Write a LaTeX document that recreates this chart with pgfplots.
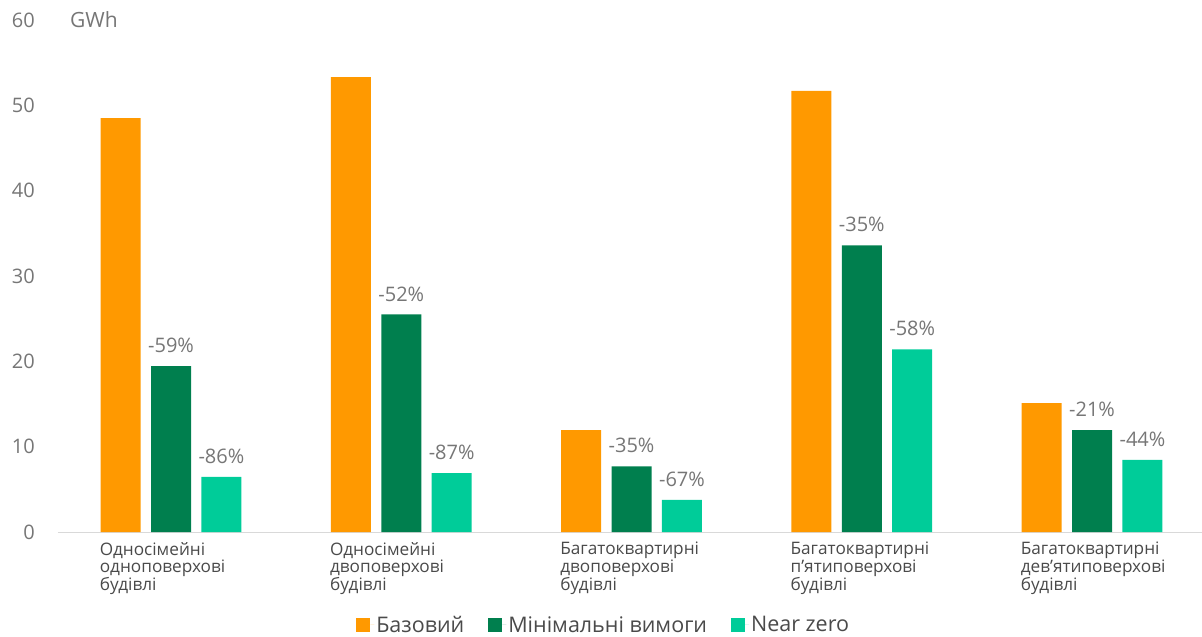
\documentclass[border=0pt]{standalone}
\usepackage{pgfplots}
\pgfplotsset{compat=1.18}
\usepackage{fontspec}
\setmainfont{Open Sans}
\definecolor{cOr}{HTML}{FF9900}
\definecolor{cDg}{HTML}{007F4E}
\definecolor{cTl}{HTML}{00CC99}
\definecolor{tGray}{HTML}{767676}
\definecolor{tDark}{HTML}{4A4A4A}
\definecolor{lGray}{HTML}{D9D9D9}
\begin{document}
\begin{tikzpicture}
\path[use as bounding box] (0,0) rectangle (1202pt,637pt);
\begin{axis}[
  at={(58pt,105pt)}, anchor=south west,
  scale only axis, width=1144pt, height=512pt,
  xmin=-0.4908, xmax=4.4777, ymin=0, ymax=60,
  axis x line*=bottom, axis y line=none,
  x axis line style={draw=lGray, line width=1pt, -},
  ytick={0,10,...,60},
  major tick length=0pt,
  xtick={-0.310,0.690,1.690,2.690,3.690},
  xticklabels={{Односімейні\\одноповерхові\\будівлі},{Односімейні\\двоповерхові\\будівлі},{Багатоквартирні\\двоповерхові\\будівлі},{Багатоквартирні\\п’ятиповерхові\\будівлі},{Багатоквартирні\\дев’ятиповерхові\\будівлі}},
  xticklabel style={anchor=north west, align=left, inner sep=0pt, yshift=-10pt, text=tDark, font={\fontsize{17.2pt}{14.8pt}\selectfont}},
  /pgf/number format/assume math mode=true,
  ybar, bar width=40pt, bar shift=0pt,
  every axis plot/.append style={draw=none},
  nodes near coords style={anchor=south, inner sep=0pt, yshift=13pt, text=tGray, font=\fontsize{20pt}{22pt}\selectfont},
  legend style={at={(0.477,-0.1816)}, anchor=center, draw=none, fill=none,
    legend columns=3, font=\fontsize{21.5pt}{24pt}\selectfont, text=tDark,
    /tikz/every even column/.append style={column sep=22pt}},
  legend image code/.code={\path[#1, draw=none] (0pt,-7pt) rectangle (14pt,7pt); \path (14pt,0pt) -- (18pt,0pt);},
  clip=false,
]
\addplot[fill=cOr] coordinates {(-0.219,48.5) (0.781,53.3) (1.781,11.95) (2.781,51.7) (3.781,15.1)};
\addplot[fill=cDg, nodes near coords, point meta=explicit symbolic] coordinates {
  (0,19.45) [-59\%] (1,25.5) [-52\%] (2,7.7) [-35\%] (3,33.6) [-35\%] (4,11.95) [-21\%]};
\addplot[fill=cTl, nodes near coords, point meta=explicit symbolic] coordinates {
  (0.219,6.45) [-86\%] (1.219,6.9) [-87\%] (2.219,3.75) [-67\%] (3.219,21.4) [-58\%] (4.219,8.45) [-44\%]};
\legend{Базовий, Мінімальні вимоги, Near zero}
\pgfplotsinvokeforeach{0,10,20,30,40,50,60}{
  \node[anchor=east, inner sep=0pt, text=tGray, font=\fontsize{20pt}{22pt}\selectfont] at (axis cs:-0.4908,#1) [xshift=-23pt] {#1};
}
\node[anchor=west, inner sep=0pt, text=tGray, font=\fontsize{21pt}{22pt}\selectfont] at (rel axis cs:0.0105,1) {GWh};
\end{axis}
\end{tikzpicture}
\end{document}
